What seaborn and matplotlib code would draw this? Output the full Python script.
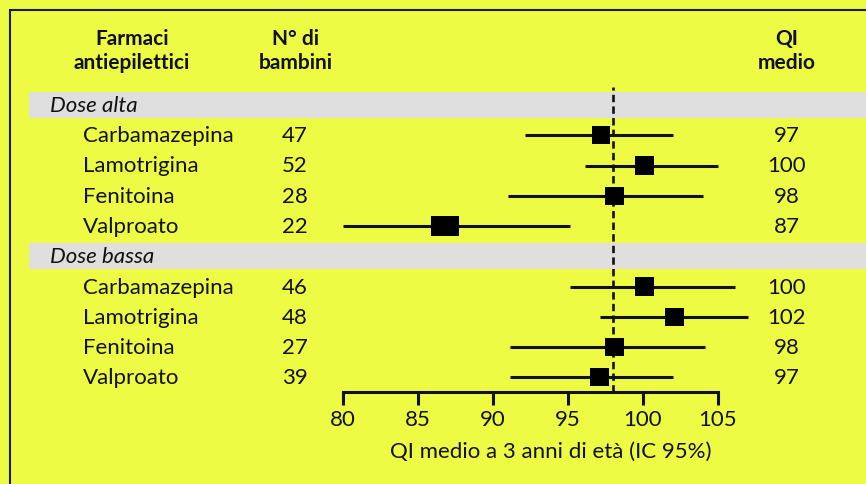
import matplotlib
matplotlib.use("Agg")
import matplotlib.pyplot as plt
import matplotlib.transforms as mtransforms
from matplotlib.lines import Line2D
from matplotlib.patches import Rectangle
import numpy as np
import pandas as pd
import seaborn as sns

# data
groups = ["Dose alta", "Dose bassa"]
drugs = ["Carbamazepina", "Lamotrigina", "Fenitoina", "Valproato"]
n_children = [[47, 52, 28, 22], [46, 48, 27, 39]]
qi_mean = [[97.2, 100.1, 98.1, 86.8], [100.1, 102.1, 98.1, 97.1]]
ci_low = [[92.1, 96.1, 91.0, 80.0], [95.1, 97.1, 91.1, 91.1]]
ci_high = [[102.0, 105.0, 104.0, 95.1], [106.1, 107.0, 104.1, 102.0]]
qi_label = [[97, 100, 98, 87], [100, 102, 98, 97]]
reference_qi = 98
x_ticks = [80, 85, 90, 95, 100, 105]
x_label = "QI medio a 3 anni di età (IC 95%)"

# style: the Valproato high-dose box is drawn wider
box_kind = [["std", "std", "std", "wide"], ["std", "std", "std", "std"]]

bg = "#EEFB45"
band_col = "#DFDFDF"
ink = "#111111"
fs = 16

sns.set_theme(style="white")
plt.rcParams["font.family"] = ["Lato", "DejaVu Sans"]

rows = []
for g, group in enumerate(groups):
    for j, drug in enumerate(drugs):
        rows.append([group, drug, g * 5 + 1 + j, n_children[g][j], qi_mean[g][j],
                     ci_low[g][j], ci_high[g][j], qi_label[g][j], box_kind[g][j]])
df = pd.DataFrame(rows, columns=["group", "drug", "row", "n", "qi", "lo", "hi", "label", "box"])

W, H = 866, 485
fig = plt.figure(figsize=(W / 100, H / 100), dpi=100)
fig.patch.set_facecolor(bg)

ax = fig.add_axes([343 / W, 1 - 393 / H, 375 / W, (393 - 88) / H])
ax.set_facecolor("none")
ax.set_xlim(80, 105)
step = 30.25
ax.set_ylim((393 - 106) / step, (88 - 106) / step)

trans = mtransforms.blended_transform_factory(fig.transFigure, ax.transData)

# group bands
for g, group in enumerate(groups):
    r = g * 5
    ax.add_patch(Rectangle((29 / W, r - 0.43), 1 - 29 / W, 0.86, transform=trans,
                           facecolor=band_col, edgecolor="none", clip_on=False, zorder=0))
    ax.text(50 / W, r, group, transform=trans, ha="left", va="center",
            fontsize=fs, style="italic", color=ink)

# reference line
ax.axvline(reference_qi, color=ink, lw=1.9, dashes=(2.8, 1.6), zorder=2)

# confidence intervals
ax.hlines(df["row"], df["lo"], df["hi"], color=ink, lw=2.2, clip_on=False, zorder=3)

wide = [(-13.5, -9.5), (13.5, -9.5), (13.5, 9.5), (-13.5, 9.5), (-13.5, -9.5)]
sns.scatterplot(data=df, x="qi", y="row", size="box", sizes={"std": 168, "wide": 378},
                style="box", markers={"std": "s", "wide": wide}, color="black",
                edgecolor="none", linewidth=0, legend=False, ax=ax, zorder=4, clip_on=False)

# table columns
cell = dict(transform=trans, va="center", fontsize=fs, color=ink)
for _, r in df.iterrows():
    ax.text(83 / W, r["row"], r["drug"], ha="left", **cell)
    ax.text(282 / W, r["row"], str(r["n"]), ha="left", **cell)
    ax.text(787 / W, r["row"], str(r["label"]), ha="center", **cell)

# headers
hdr = dict(ha="center", va="center", fontsize=15, fontweight="bold", color=ink, linespacing=1.2)
fig.text(132 / W, 1 - 51 / H, "Farmaci\nantiepilettici", **hdr)
fig.text(296 / W, 1 - 51 / H, "N° di\nbambini", **hdr)
fig.text(787 / W, 1 - 51 / H, "QI\nmedio", **hdr)

# axis
for s in ["left", "right", "top"]:
    ax.spines[s].set_visible(False)
ax.spines["bottom"].set_linewidth(2.2)
ax.spines["bottom"].set_color(ink)
ax.set_xticks(x_ticks)
ax.set_yticks([])
ax.tick_params(axis="x", direction="out", length=9.5, width=2.2, color=ink,
               labelsize=fs, labelcolor=ink, pad=3, bottom=True)
ax.set_xlabel(x_label, fontsize=fs, color=ink)
ax.set_ylabel("")
ax.xaxis.set_label_coords((551 - 343) / 375, -(452 - 393) / (393 - 88))
ax.xaxis.label.set_va("center")

# frame
fig.add_artist(Line2D([10 / W, 10 / W], [0, 1 - 10.5 / H], transform=fig.transFigure, color="#1a1a1a", lw=1.5))
fig.add_artist(Line2D([10 / W, 1], [1 - 10.5 / H, 1 - 10.5 / H], transform=fig.transFigure, color="#1a1a1a", lw=1.5))

fig.savefig("out.png", dpi=100, facecolor=bg)
